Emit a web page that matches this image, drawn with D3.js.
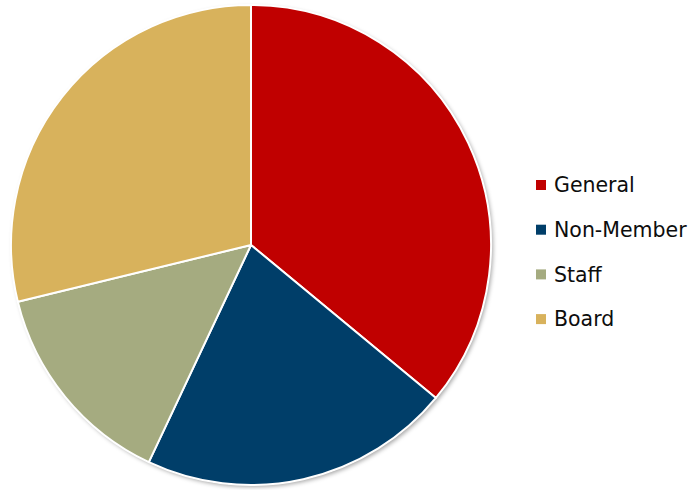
<!DOCTYPE html>
<html>
<head>
<meta charset="utf-8">
<script src="https://cdn.jsdelivr.net/npm/d3@7"></script>
<style>
  body { margin: 0; background: #fff; }
</style>
</head>
<body>
<script>
// data
const categories = ["General", "Non-Member", "Staff", "Board"]
const values = [36, 21, 14.2, 28.8]
const colors = ["#c00000", "#003e69", "#a5ab80", "#d8b25c"]

const width = 698, height = 490
const cx = 251, cy = 245, radius = 240

const svg = d3.select("body").append("svg")
    .attr("width", width)
    .attr("height", height)

const defs = svg.append("defs")
const f = defs.append("filter").attr("id", "shadow")
    .attr("x", "-10%").attr("y", "-10%").attr("width", "120%").attr("height", "120%")
f.append("feDropShadow")
    .attr("dx", 2).attr("dy", 2).attr("stdDeviation", 2)
    .attr("flood-color", "#000").attr("flood-opacity", 0.35)

const pie = d3.pie().sort(null).value(d => d.v)
const arc = d3.arc().innerRadius(0).outerRadius(radius)

const data = categories.map((c, i) => ({ name: c, v: values[i], color: colors[i] }))

const g = svg.append("g")
    .attr("transform", "translate(" + cx + "," + cy + ")")

// shadow under the pie
g.append("circle")
    .attr("r", radius)
    .attr("fill", "#fff")
    .attr("filter", "url(#shadow)")

g.selectAll("path")
    .data(pie(data))
    .enter()
    .append("path")
    .attr("d", arc)
    .attr("fill", d => d.data.color)
    .attr("stroke", "#fff")
    .attr("stroke-width", 2)
    .attr("stroke-linejoin", "round")

// legend
const legend = svg.append("g")
    .attr("transform", "translate(536,185)")

const item = legend.selectAll("g")
    .data(data)
    .enter()
    .append("g")
    .attr("transform", (d, i) => "translate(0," + i * 44.7 + ")")

item.append("rect")
    .attr("x", 0).attr("y", -5)
    .attr("width", 10).attr("height", 10)
    .attr("fill", d => d.color)

item.append("text")
    .attr("x", 18)
    .attr("y", 0)
    .attr("dy", "0.36em")
    .attr("font-family", "'DejaVu Sans', sans-serif")
    .attr("font-size", 20.5)
    .attr("fill", "#0d0d0d")
    .text(d => d.name)
</script>
</body>
</html>
